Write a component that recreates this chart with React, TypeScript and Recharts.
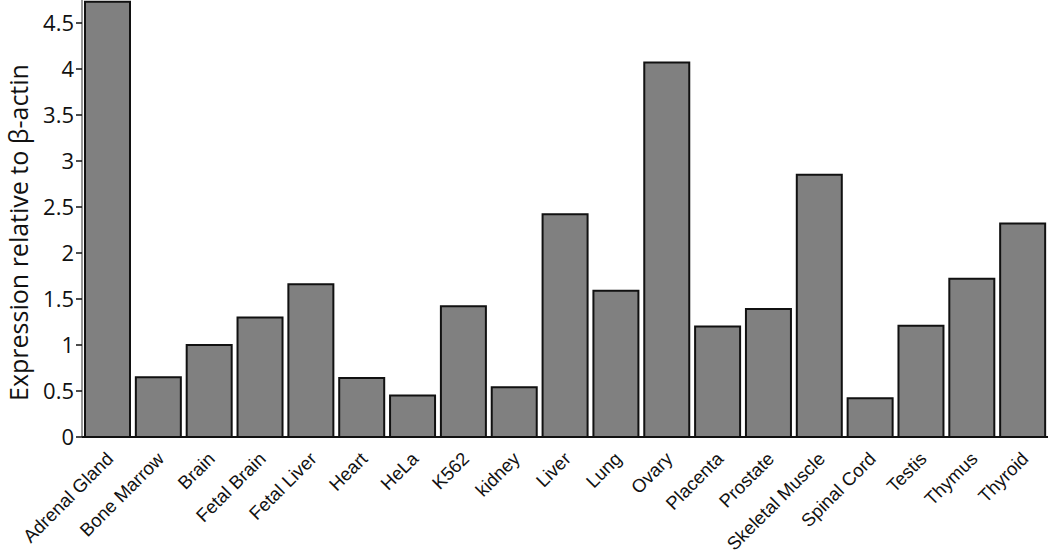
import { Bar, BarChart, XAxis, YAxis } from 'recharts';

const tissues = [
  'Adrenal Gland', 'Bone Marrow', 'Brain', 'Fetal Brain', 'Fetal Liver', 'Heart', 'HeLa', 'K562',
  'kidney', 'Liver', 'Lung', 'Ovary', 'Placenta', 'Prostate', 'Skeletal Muscle', 'Spinal Cord',
  'Testis', 'Thymus', 'Thyroid',
];
const expression = [
  4.73, 0.65, 1.0, 1.3, 1.66, 0.64, 0.45, 1.42, 0.54, 2.42, 1.59, 4.07, 1.2, 1.39, 2.85, 0.42,
  1.21, 1.72, 2.32,
];
const yTicks = [0, 0.5, 1, 1.5, 2, 2.5, 3, 3.5, 4, 4.5];

const data = tissues.map((tissue, i) => ({ tissue, value: expression[i] }));

function TissueTick({ x, y, payload }: any) {
  const ax = x + 7;
  const ay = y + 15;
  return (
    <text
      x={ax}
      y={ay}
      transform={`rotate(-45, ${ax}, ${ay})`}
      textAnchor="end"
      fontSize={18.5}
      fontFamily="'Liberation Sans', Arial, sans-serif"
      fill="#111"
    >
      {payload.value}
    </text>
  );
}

export default function App() {
  return (
    <div style={{ position: 'absolute', left: 0, top: 0, background: '#fff' }}>
      <BarChart
        width={1050}
        height={558}
        data={data}
        margin={{ top: 0, right: 2, bottom: 0, left: 0 }}
        barCategoryGap={3}
      >
        <XAxis
          dataKey="tissue"
          interval={0}
          tickLine={false}
          axisLine={{ stroke: '#111', strokeWidth: 2 }}
          height={121}
          tick={<TissueTick />}
        />
        <YAxis
          width={82}
          domain={[0, 4.75]}
          ticks={yTicks}
          allowDataOverflow
          tickSize={6}
          tickMargin={2}
          axisLine={{ stroke: '#333', strokeWidth: 1 }}
          tickLine={{ stroke: '#111', strokeWidth: 1.5 }}
          tick={{ fontSize: 22, fill: '#111', fontFamily: "'Open Sans', sans-serif" }}
          label={{
            value: 'Expression relative to β-actin',
            angle: -90,
            position: 'center',
            dx: -22,
            dy: 14,
            style: { fontSize: 25, fill: '#111', fontFamily: "'Open Sans', sans-serif" },
          }}
        />
        <Bar dataKey="value" fill="#808080" stroke="#111" strokeWidth={2} isAnimationActive={false} />
      </BarChart>
    </div>
  );
}
